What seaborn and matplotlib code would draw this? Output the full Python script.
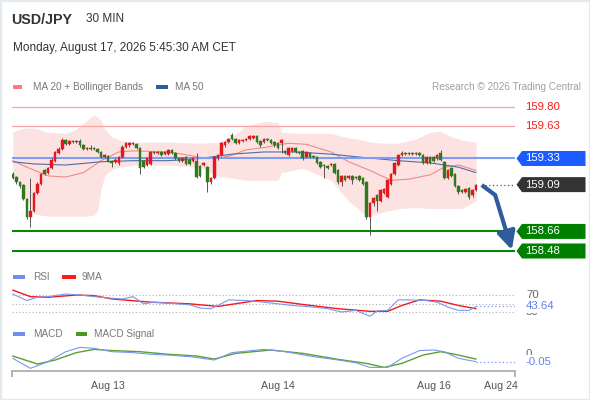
import numpy as np
import seaborn as sns
import matplotlib
matplotlib.use('Agg')
from matplotlib import pyplot as plt
from matplotlib import transforms
from matplotlib.patches import Polygon, Rectangle

W, H = 590, 400

# 30 min candles, oldest first
opens = [159.19, 159.16, 159.11, 159.09, 158.96, 158.79, 158.85, 159.01, 159.10, 159.22,
         159.20, 159.24, 159.31, 159.38, 159.42, 159.50, 159.46, 159.49, 159.48, 159.49,
         159.45, 159.42, 159.43, 159.43, 159.42, 159.39, 159.34, 159.35, 159.31, 159.30,
         159.29, 159.34, 159.44, 159.45, 159.47, 159.46, 159.43, 159.31, 159.27, 159.28,
         159.39, 159.38, 159.39, 159.37, 159.37, 159.41, 159.38, 159.33, 159.31, 159.34,
         159.32, 159.31, 159.31, 159.26, 159.27, 159.25, 159.11, 159.15, 159.33, 159.36,
         159.45, 159.48, 159.55, 159.51, 159.47, 159.49, 159.50, 159.51, 159.52, 159.54,
         159.49, 159.48, 159.51, 159.50, 159.48, 159.47, 159.47, 159.40, 159.36, 159.40,
         159.43, 159.39, 159.40, 159.34, 159.38, 159.35, 159.34, 159.30, 159.27, 159.26,
         159.27, 159.28, 159.22, 159.11, 159.17, 159.15, 159.17, 159.15, 159.17, 159.15,
         159.11, 158.79, 158.92, 158.99, 158.94, 159.01, 158.98, 159.10, 159.19, 159.27,
         159.36, 159.38, 159.37, 159.38, 159.37, 159.38, 159.36, 159.29, 159.34, 159.34,
         159.33, 159.38, 159.30, 159.15, 159.24, 159.19, 159.08, 159.04, 159.02, 159.06,
         158.99, 159.04]
closes = [159.15, 159.11, 159.08, 158.96, 158.79, 158.85, 159.01, 159.10, 159.19, 159.19,
          159.24, 159.32, 159.39, 159.42, 159.50, 159.46, 159.49, 159.48, 159.49, 159.45,
          159.42, 159.43, 159.42, 159.42, 159.39, 159.34, 159.36, 159.31, 159.29, 159.32,
          159.34, 159.44, 159.47, 159.47, 159.46, 159.43, 159.24, 159.25, 159.33, 159.39,
          159.38, 159.39, 159.36, 159.39, 159.41, 159.38, 159.33, 159.31, 159.33, 159.28,
          159.28, 159.33, 159.16, 159.17, 159.29, 159.11, 159.15, 159.34, 159.36, 159.47,
          159.48, 159.51, 159.51, 159.47, 159.50, 159.50, 159.51, 159.54, 159.54, 159.48,
          159.45, 159.51, 159.50, 159.47, 159.45, 159.43, 159.50, 159.38, 159.43, 159.43,
          159.39, 159.38, 159.33, 159.39, 159.34, 159.34, 159.29, 159.25, 159.26, 159.24,
          159.28, 159.20, 159.11, 159.17, 159.13, 159.17, 159.13, 159.16, 159.13, 159.10,
          158.79, 158.92, 158.97, 158.94, 159.04, 159.05, 159.13, 159.19, 159.29, 159.36,
          159.38, 159.37, 159.38, 159.37, 159.38, 159.36, 159.29, 159.34, 159.29, 159.31,
          159.36, 159.32, 159.15, 159.22, 159.17, 159.08, 159.02, 159.02, 159.05, 158.98,
          159.04, 159.09]
highs = [159.21, 159.17, 159.12, 159.10, 158.97, 159.15, 159.02, 159.11, 159.20, 159.23,
         159.25, 159.33, 159.40, 159.44, 159.52, 159.51, 159.50, 159.50, 159.50, 159.51,
         159.46, 159.44, 159.45, 159.44, 159.43, 159.40, 159.37, 159.36, 159.32, 159.33,
         159.35, 159.45, 159.48, 159.48, 159.48, 159.47, 159.44, 159.32, 159.34, 159.40,
         159.40, 159.40, 159.40, 159.40, 159.42, 159.42, 159.39, 159.34, 159.34, 159.35,
         159.33, 159.34, 159.38, 159.27, 159.30, 159.26, 159.16, 159.35, 159.37, 159.48,
         159.49, 159.52, 159.56, 159.52, 159.51, 159.51, 159.52, 159.55, 159.55, 159.55,
         159.50, 159.52, 159.52, 159.51, 159.49, 159.48, 159.51, 159.41, 159.44, 159.44,
         159.44, 159.40, 159.41, 159.40, 159.39, 159.36, 159.35, 159.31, 159.28, 159.27,
         159.29, 159.29, 159.23, 159.18, 159.18, 159.18, 159.18, 159.17, 159.18, 159.16,
         159.12, 158.93, 158.98, 159.00, 159.05, 159.06, 159.14, 159.20, 159.30, 159.37,
         159.40, 159.39, 159.39, 159.39, 159.39, 159.39, 159.37, 159.35, 159.35, 159.35,
         159.37, 159.41, 159.31, 159.23, 159.25, 159.20, 159.09, 159.05, 159.06, 159.07,
         159.05, 159.10]
lows = [159.14, 159.10, 159.06, 158.95, 158.77, 158.70, 158.84, 159.00, 159.09, 159.18,
        159.19, 159.23, 159.30, 159.37, 159.41, 159.45, 159.45, 159.47, 159.47, 159.44,
        159.41, 159.41, 159.41, 159.41, 159.38, 159.33, 159.33, 159.30, 159.25, 159.29,
        159.27, 159.33, 159.43, 159.44, 159.45, 159.42, 159.19, 159.24, 159.26, 159.27,
        159.37, 159.37, 159.35, 159.36, 159.36, 159.37, 159.32, 159.30, 159.30, 159.27,
        159.27, 159.30, 159.15, 159.16, 159.26, 159.02, 159.10, 159.14, 159.32, 159.35,
        159.44, 159.47, 159.50, 159.46, 159.46, 159.48, 159.49, 159.50, 159.51, 159.47,
        159.44, 159.47, 159.49, 159.46, 159.44, 159.42, 159.38, 159.37, 159.35, 159.39,
        159.38, 159.37, 159.32, 159.33, 159.33, 159.33, 159.28, 159.24, 159.15, 159.23,
        159.26, 159.19, 159.10, 159.08, 159.12, 159.14, 159.10, 159.14, 159.12, 159.09,
        158.77, 158.63, 158.89, 158.85, 158.93, 159.00, 158.97, 159.09, 159.18, 159.26,
        159.35, 159.36, 159.36, 159.36, 159.36, 159.35, 159.28, 159.28, 159.28, 159.30,
        159.32, 159.31, 159.14, 159.14, 159.16, 159.07, 159.00, 159.01, 159.01, 158.96,
        158.98, 159.03]

# Bollinger bands / moving averages (bar index, price)
band_x = [0, 2, 4, 6, 10, 15, 18, 21, 23, 24, 25, 26, 28, 30, 34, 44, 53, 58, 62, 66,
          71, 75, 76, 82, 90, 95, 99, 101, 105, 109, 114, 118, 121, 124, 127, 131]
band_upper = [159.57, 159.60, 159.61, 159.61, 159.57, 159.56, 159.60, 159.68, 159.73, 159.71,
              159.68, 159.60, 159.53, 159.50, 159.48, 159.48, 159.47, 159.48, 159.53, 159.63,
              159.67, 159.66, 159.57, 159.56, 159.56, 159.52, 159.50, 159.48, 159.47, 159.47,
              159.51, 159.57, 159.58, 159.53, 159.50, 159.48]
band_lower = [159.17, 159.13, 158.94, 158.82, 158.80, 158.80, 158.80, 158.80, 158.81, 158.85,
              159.05, 159.17, 159.23, 159.25, 159.27, 159.27, 159.25, 159.17, 159.15, 159.13,
              159.13, 159.13, 159.20, 159.24, 159.13, 158.94, 158.83, 158.80, 158.84, 158.87,
              158.88, 158.87, 158.87, 158.87, 158.87, 158.94]
ma20_x = [0, 4, 10, 15, 20, 25, 30, 34, 44, 48, 53, 58, 62, 66, 71, 78, 83, 90, 95, 101,
          107, 112, 118, 122, 126, 131]
ma20 = [159.31, 159.25, 159.17, 159.16, 159.20, 159.31, 159.39, 159.40, 159.39, 159.37,
        159.34, 159.33, 159.36, 159.41, 159.43, 159.47, 159.46, 159.39, 159.30, 159.22,
        159.13, 159.14, 159.18, 159.25, 159.27, 159.22]
ma50_x = [0, 6, 15, 25, 34, 44, 53, 62, 71, 80, 90, 99, 109, 118, 126, 131]
ma50 = [159.30, 159.28, 159.27, 159.30, 159.31, 159.31, 159.33, 159.37, 159.39, 159.39,
        159.37, 159.34, 159.31, 159.29, 159.25, 159.20]

resistances = [159.80, 159.63]
pivot = 159.33
supports = [158.66, 158.48]
last_price = 159.09

# forecast arrow (bar index, price)
arrow_x = [132.6, 136.4, 141.1]
arrow_y = [159.086, 158.994, 158.49]

# RSI panel
rsi_x = [0, 4, 7, 10, 15, 19, 23, 27, 31, 34, 37, 40, 44, 50, 53, 56, 58, 61, 66, 71,
         75, 79, 85, 89, 93, 97, 101, 103, 106, 109, 112, 117, 120, 123, 126, 129, 131]
rsi = [72.3, 57.2, 64.7, 66.2, 72.3, 70.0, 66.2, 63.2, 60.9, 66.2, 49.6, 53.4, 51.1, 47.4,
       39.8, 38.3, 45.8, 58.7, 57.2, 53.4, 49.6, 45.8, 42.1, 38.3, 30.7, 34.5, 20.9, 33.0,
       34.5, 58.7, 58.7, 57.2, 53.4, 42.1, 34.5, 34.5, 43.64]
rsi_ma_x = [0, 5, 10, 18, 23, 28, 39, 50, 58, 69, 75, 82, 92, 101, 106, 110, 115, 121, 126, 131]
rsi_ma = [81.3, 66.2, 64.7, 70.0, 68.5, 60.9, 53.4, 49.6, 43.6, 57.2, 55.7, 48.1, 38.3, 32.3,
          32.3, 45.8, 58.7, 55.7, 45.8, 38.3]
rsi_levels = [70, 50, 30]

# MACD panel
macd_x = [0, 5, 10, 15, 19, 23, 28, 34, 39, 44, 50, 57, 62, 71, 77, 85, 92, 97, 101, 106,
          110, 115, 119, 122, 126, 131]
macd = [-0.028, -0.093, -0.050, 0.015, 0.043, 0.037, 0.015, 0.009, -0.002, -0.007, -0.017,
        -0.039, 0.009, 0.030, 0.015, -0.017, -0.039, -0.057, -0.087, -0.087, -0.028, 0.022,
        0.026, 0.015, -0.028, -0.050]
signal_x = [0, 7, 12, 18, 23, 28, 36, 44, 52, 57, 63, 73, 82, 92, 100, 105, 110, 116, 121, 125, 131]
signal = [-0.013, -0.065, -0.039, 0.009, 0.030, 0.022, 0.015, -0.002, -0.013, -0.033, 0.004,
          0.026, 0.004, -0.035, -0.061, -0.087, -0.061, -0.007, 0.015, -0.002, -0.033]

date_pos = [27, 75, 119, 138]
date_labels = ['Aug 13', 'Aug 14', 'Aug 16', 'Aug 24']

sns.set_theme(style='white')
plt.rcParams['font.family'] = ['Liberation Sans', 'DejaVu Sans']

fig = plt.figure(figsize=(W / 100, H / 100), dpi=100)
fig.patch.set_facecolor('white')
XLIM = (-0.2, 142.0)


def px_axes(left, top, right, bottom):
    ax = fig.add_axes([left / W, 1 - bottom / H, (right - left) / W, (bottom - top) / H])
    ax.set_facecolor('none')
    for s in ax.spines.values():
        s.set_visible(False)
    ax.set_xticks([])
    ax.set_yticks([])
    ax.set_xlim(*XLIM)
    ax.set_xlabel('')
    ax.set_ylabel('')
    return ax


def ftext(x, y, s, **kw):
    fig.text(x / W, 1 - y / H, s, va='center', **kw)


def legend_patch(x, y, color, w=12):
    fig.patches.append(Rectangle((x / W, 1 - (y + 2) / H), w / W, 4 / H, transform=fig.transFigure,
                                 facecolor=color, edgecolor='none'))


# ---- header ----
ftext(11.5, 19.5, 'USD/JPY', fontsize=10.3, fontweight='bold', color='#333333')
ftext(86, 18.5, '30 MIN', fontsize=8.5, color='#333333')
ftext(13, 48, 'Monday, August 17, 2026 5:45:30 AM CET', fontsize=8.5, color='#333333')
legend_patch(13, 86.5, '#ff7b7b', w=9)
ftext(33, 86.5, 'MA 20 + Bollinger Bands', fontsize=7.2, color='#777777')
legend_patch(155.5, 86.5, '#2f5c9a')
ftext(175, 86.5, 'MA 50', fontsize=7.2, color='#777777')
ftext(581.5, 86.5, 'Research \u00a9 2026 Trading Central', fontsize=7.2, color='#a0a0a0', ha='right')

# ---- price panel ----
ax = px_axes(12, 97, 515, 262)
ax.set_ylim(158.379, 159.895)
idx = np.arange(len(closes))
o = np.array(opens)
c = np.array(closes)

ax.fill_between(band_x, band_lower, band_upper, color='#fde2e2', lw=0, zorder=1)
sns.lineplot(x=ma20_x, y=ma20, ax=ax, color='#f28a8a', lw=0.8, zorder=2)
sns.lineplot(x=ma50_x, y=ma50, ax=ax, color='#4a6fa8', lw=0.8, zorder=2)

for r in resistances:
    ax.axhline(r, color='#f5a5a5', lw=0.9, zorder=1)
ax.axhline(pivot, color='#7d9ef2', lw=1.5, zorder=2)
for s in supports:
    ax.axhline(s, color='#0c840c', lw=1.5, zorder=2)
ax.hlines(last_price, len(closes) + 1.5, XLIM[1], color='#555555', lw=0.9, linestyles=(0, (1, 2)), zorder=2)

colors = np.where(c >= o, '#e5161c', '#2f7a1f')
ax.vlines(idx, lows, highs, color='#555555', lw=0.7, zorder=3)
body_lo = np.minimum(o, c)
body_h = np.maximum(np.abs(c - o), 0.005)
ax.bar(idx, body_h, bottom=body_lo, width=0.72, color=colors, edgecolor=colors, lw=0.3, zorder=4)

# forecast arrow
ax.plot(arrow_x[:2], arrow_y[:2], color='#2f5c9a', lw=3, solid_capstyle='butt', zorder=5)
ax.annotate('', xy=(arrow_x[2], arrow_y[2]), xytext=(arrow_x[1], arrow_y[1]),
            arrowprops=dict(arrowstyle='-|>,head_width=0.45,head_length=0.9', lw=3,
                            color='#2f5c9a', mutation_scale=12, shrinkA=0, shrinkB=0), zorder=5)

bt = transforms.blended_transform_factory(ax.transAxes, ax.transData)
ppu = 165 / (159.895 - 158.379)  # pixels per price unit


def ax_frac(px):
    return (px - 12) / 503


def tag(price, face, txt_color='white'):
    h = 7.5 / ppu
    x0, x1, x2 = ax_frac(516.5), ax_frac(522), ax_frac(585.5)
    if face is not None:
        ax.add_patch(Polygon([(x0, price), (x1, price + h), (x2, price + h), (x2, price - h), (x1, price - h)],
                             closed=True, transform=bt, facecolor=face, edgecolor='none', clip_on=False))
    ax.text(ax_frac(525.5), price, f'{price:.2f}', transform=bt, color=txt_color, fontsize=8.2,
            va='center', ha='left', clip_on=False)


for r in resistances:
    tag(r, None, '#f01e1e')
tag(pivot, '#1a5cff')
tag(last_price, '#333333')
for s in supports:
    tag(s, '#008000')

# ---- RSI panel ----
legend_patch(13, 277, '#6f8ff0')
ftext(33, 277, 'RSI', fontsize=7.2, color='#777777')
legend_patch(62, 277, '#ff1a1a', w=14)
ftext(82, 277, '9MA', fontsize=7.2, color='#777777')

ax_r = px_axes(12, 287, 515, 321)
ax_r.set_ylim(9.9, 88.5)
for lv in rsi_levels:
    ax_r.axhline(lv, color='#b0b0b0', lw=0.8, linestyle=(0, (1, 2)))
sns.lineplot(x=rsi_ma_x, y=rsi_ma, ax=ax_r, color='#f01a1a', lw=1.0)
sns.lineplot(x=rsi_x, y=rsi, ax=ax_r, color='#7b97f0', lw=0.8)
ax_r.hlines(rsi[-1], rsi_x[-1], XLIM[1], color='#7b97f0', lw=0.9, linestyles=(0, (1, 2)))
bt_r = transforms.blended_transform_factory(ax_r.transAxes, ax_r.transData)
ax_r.text(ax_frac(526), 70, '70', transform=bt_r, fontsize=8.2, color='#666666', va='center', clip_on=False)
ax_r.text(ax_frac(526), 30, '30', transform=bt_r, fontsize=8.2, color='#666666', va='center',
          clip_on=False, zorder=1)
ax_r.text(ax_frac(526), rsi[-1], f'{rsi[-1]:.2f}', transform=bt_r, fontsize=8.2, color='#5f82ee',
          va='center', clip_on=False, zorder=3,
          bbox=dict(facecolor='white', edgecolor='none', pad=1.0))

# ---- MACD panel ----
legend_patch(13, 334, '#6f8ff0')
ftext(33, 334, 'MACD', fontsize=7.2, color='#777777')
legend_patch(75.5, 334, '#4a9a1a')
ftext(94, 334, 'MACD Signal', fontsize=7.2, color='#777777')

ax_m = px_axes(12, 340, 515, 371)
ax_m.set_ylim(-0.1104, 0.0909)
sns.lineplot(x=signal_x, y=signal, ax=ax_m, color='#5aa02a', lw=1.0)
sns.lineplot(x=macd_x, y=macd, ax=ax_m, color='#7b97f0', lw=0.8)
ax_m.hlines(macd[-1], macd_x[-1], XLIM[1], color='#7b97f0', lw=0.9, linestyles=(0, (1, 2)))
bt_m = transforms.blended_transform_factory(ax_m.transAxes, ax_m.transData)
ax_m.text(ax_frac(526), 0.0, '0', transform=bt_m, fontsize=8.2, color='#666666', va='center',
          clip_on=False, zorder=1)
ax_m.text(ax_frac(526), macd[-1], f'{macd[-1]:.2f}', transform=bt_m, fontsize=8.2, color='#5f82ee',
          va='center', clip_on=False, zorder=3,
          bbox=dict(facecolor='white', edgecolor='none', pad=1.0))

# time axis
ax_m.spines['bottom'].set_visible(True)
ax_m.spines['bottom'].set_color('#b4b4b4')
ax_m.spines['bottom'].set_linewidth(1.4)
ax_m.set_xticks(date_pos, date_labels)
ax_m.set_xticks([XLIM[0], XLIM[1]], minor=True)
ax_m.tick_params(axis='x', which='major', length=0, pad=7, labelsize=7.7, labelcolor='#555555')
ax_m.tick_params(axis='x', which='minor', length=4.5, width=1.4, color='#b4b4b4', direction='out', bottom=True)

# outer frame
fig.patches.append(Rectangle((0, 0), 1, 1, transform=fig.transFigure, fill=False,
                             edgecolor='#e4eaee', lw=2.5))

fig.savefig('out.png', dpi=100)
